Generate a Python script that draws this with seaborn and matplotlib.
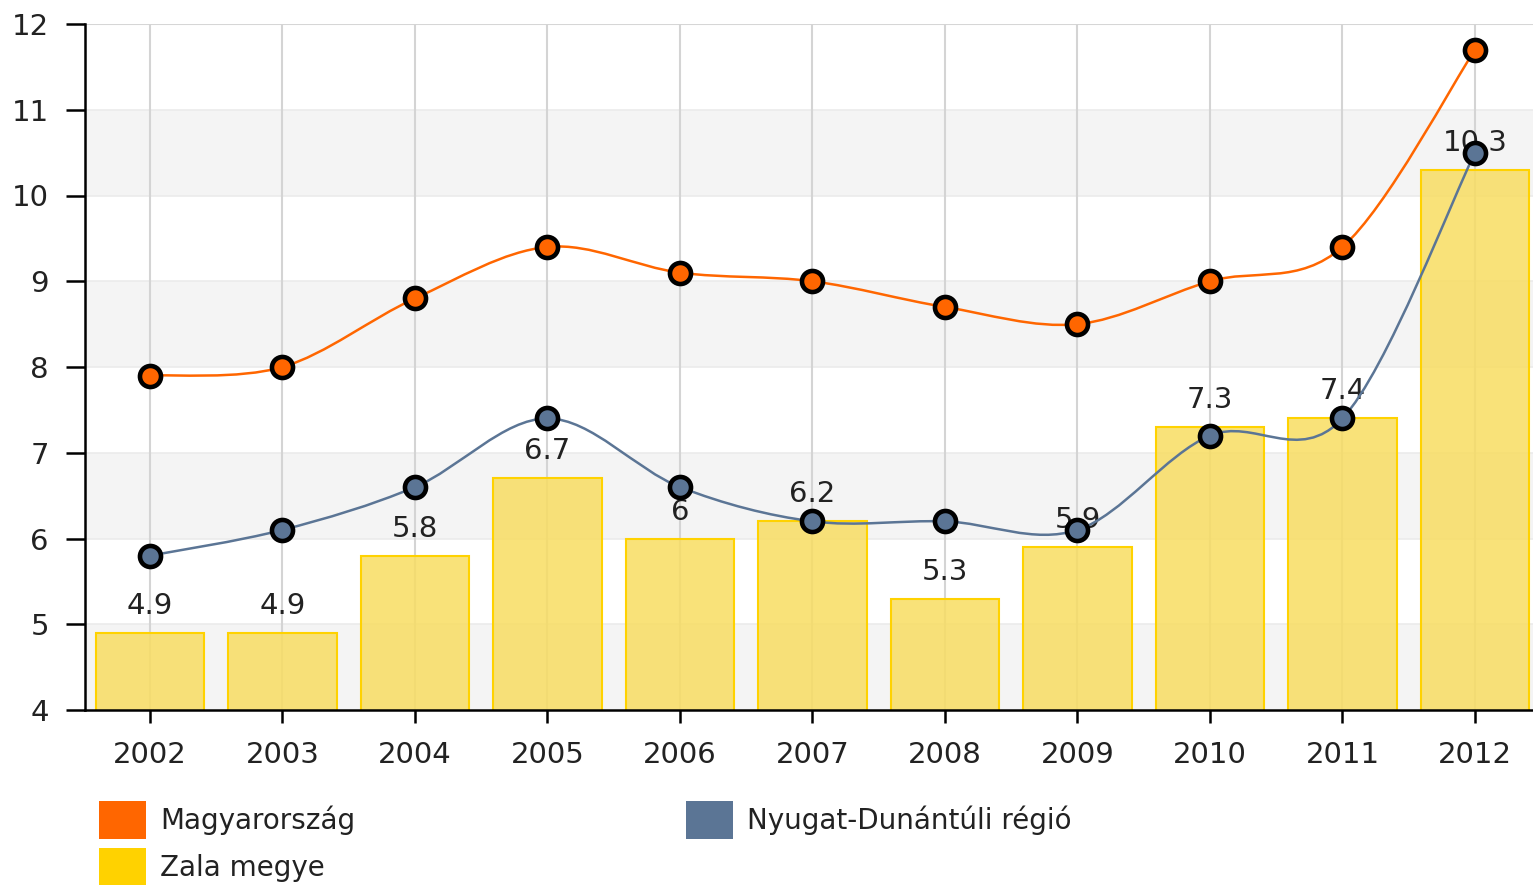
import numpy as np
import pandas as pd
import matplotlib
matplotlib.use("Agg")
import matplotlib.pyplot as plt
import seaborn as sns
from matplotlib.path import Path
from matplotlib.patches import PathPatch, Patch

years = ["2002", "2003", "2004", "2005", "2006", "2007", "2008", "2009", "2010", "2011", "2012"]
magyarorszag = [7.9, 8.0, 8.8, 9.4, 9.1, 9.0, 8.7, 8.5, 9.0, 9.4, 11.7]
nyugat = [5.8, 6.1, 6.6, 7.4, 6.6, 6.2, 6.2, 6.1, 7.2, 7.4, 10.5]
zala = [4.9, 4.9, 5.8, 6.7, 6.0, 6.2, 5.3, 5.9, 7.3, 7.4, 10.3]
zala_labels = ["4.9", "4.9", "5.8", "6.7", "6", "6.2", "5.3", "5.9", "7.3", "7.4", "10.3"]
series_names = ["Magyarország", "Nyugat-Dunántúli régió", "Zala megye"]

C_ORANGE = "#ff6600"
C_BLUE = "#5b7595"
C_YELLOW = "#ffd200"
TXT = "#222222"

sns.set_theme(style="white")
plt.rcParams["font.family"] = ["DejaVu Sans"]

W, H = 1533, 885
fig = plt.figure(figsize=(W / 100, H / 100), dpi=100)
ax = fig.add_axes([85 / W, (H - 710) / H, (1533 - 85) / W, (710 - 24) / H])

df = pd.DataFrame({"year": years, "val": zala})
sns.barplot(data=df, x="year", y="val", ax=ax, color="#f2cc00",
            width=0.82, edgecolor=C_YELLOW, linewidth=1.5, zorder=2, saturation=1)
for p in ax.patches:
    p.set_edgecolor(C_YELLOW)
    p.set_facecolor((0.972, 0.866, 0.386, 0.85))

# background bands
for lo in (4, 6, 8, 10):
    ax.axhspan(lo, lo + 1, color="#f4f4f4", zorder=0, lw=0)
for yv in range(5, 12):
    ax.axhline(yv, color="#ebebeb", lw=1.2, zorder=0.5)
ax.axhline(12, color="#d6d6d6", lw=1.5, zorder=0.5)

xs = np.arange(len(years))
for xi in xs:
    ax.axvline(xi, color="#d4d4d4", lw=1.5, zorder=1)


def smooth_path(x, y):
    pts = np.column_stack([x, y]).astype(float)
    ext = np.vstack([pts[0], pts, pts[-1]])
    verts = [tuple(pts[0])]
    codes = [Path.MOVETO]
    for i in range(1, len(ext) - 2):
        p0, p1, p2, p3 = ext[i - 1], ext[i], ext[i + 1], ext[i + 2]
        c1 = p1 + (p2 - p0) / 6.0
        c2 = p2 - (p3 - p1) / 6.0
        verts += [tuple(c1), tuple(c2), tuple(p2)]
        codes += [Path.CURVE4] * 3
    return Path(verts, codes)


for vals, col in ((magyarorszag, C_ORANGE), (nyugat, C_BLUE)):
    ax.add_patch(PathPatch(smooth_path(xs, vals), fill=False, edgecolor=col, lw=1.8, zorder=4))

for i, (v, lab) in enumerate(zip(zala, zala_labels)):
    ax.annotate(lab, (i, v), xytext=(0, 13), textcoords="offset pixels", ha="center",
                va="bottom", fontsize=21, color=TXT, zorder=3)

for vals, col in ((magyarorszag, C_ORANGE), (nyugat, C_BLUE)):
    sns.scatterplot(x=xs, y=vals, ax=ax, s=230, color=col, edgecolor="black",
                    linewidth=3.3, zorder=6, legend=False)

ax.set_xlim(-0.49, (1533 - 150) / 132.5)
ax.set_ylim(4, 12)
ax.set_yticks(range(4, 13))
ax.set_xticks(xs)
ax.set_xticklabels(years)
ax.set_xlabel("")
ax.set_ylabel("")
for s in ("top", "right"):
    ax.spines[s].set_visible(False)
for s in ("left", "bottom"):
    ax.spines[s].set_color("black")
    ax.spines[s].set_linewidth(1.8)
    ax.spines[s].set_zorder(7)
ax.tick_params(axis="y", length=14, width=1.8, color="black", pad=12, labelsize=21, labelcolor=TXT)
ax.tick_params(axis="x", length=9, width=1.8, color="black", pad=13, labelsize=21, labelcolor=TXT)
ax.tick_params(left=True, bottom=True)

handles = [Patch(facecolor=C_ORANGE, edgecolor="none"),
           Patch(facecolor=C_YELLOW, edgecolor="none"),
           Patch(facecolor=C_BLUE, edgecolor="none")]
labels = [series_names[0], series_names[2], series_names[1]]
fig.legend(handles, labels, loc="lower left", bbox_to_anchor=(74 / W, -26 / H), ncol=2,
           frameon=False, fontsize=20, handlelength=1.7, handleheight=1.75,
           handletextpad=0.5, labelspacing=0.3, columnspacing=11.9, labelcolor=TXT)

fig.savefig("out.png", dpi=100)
